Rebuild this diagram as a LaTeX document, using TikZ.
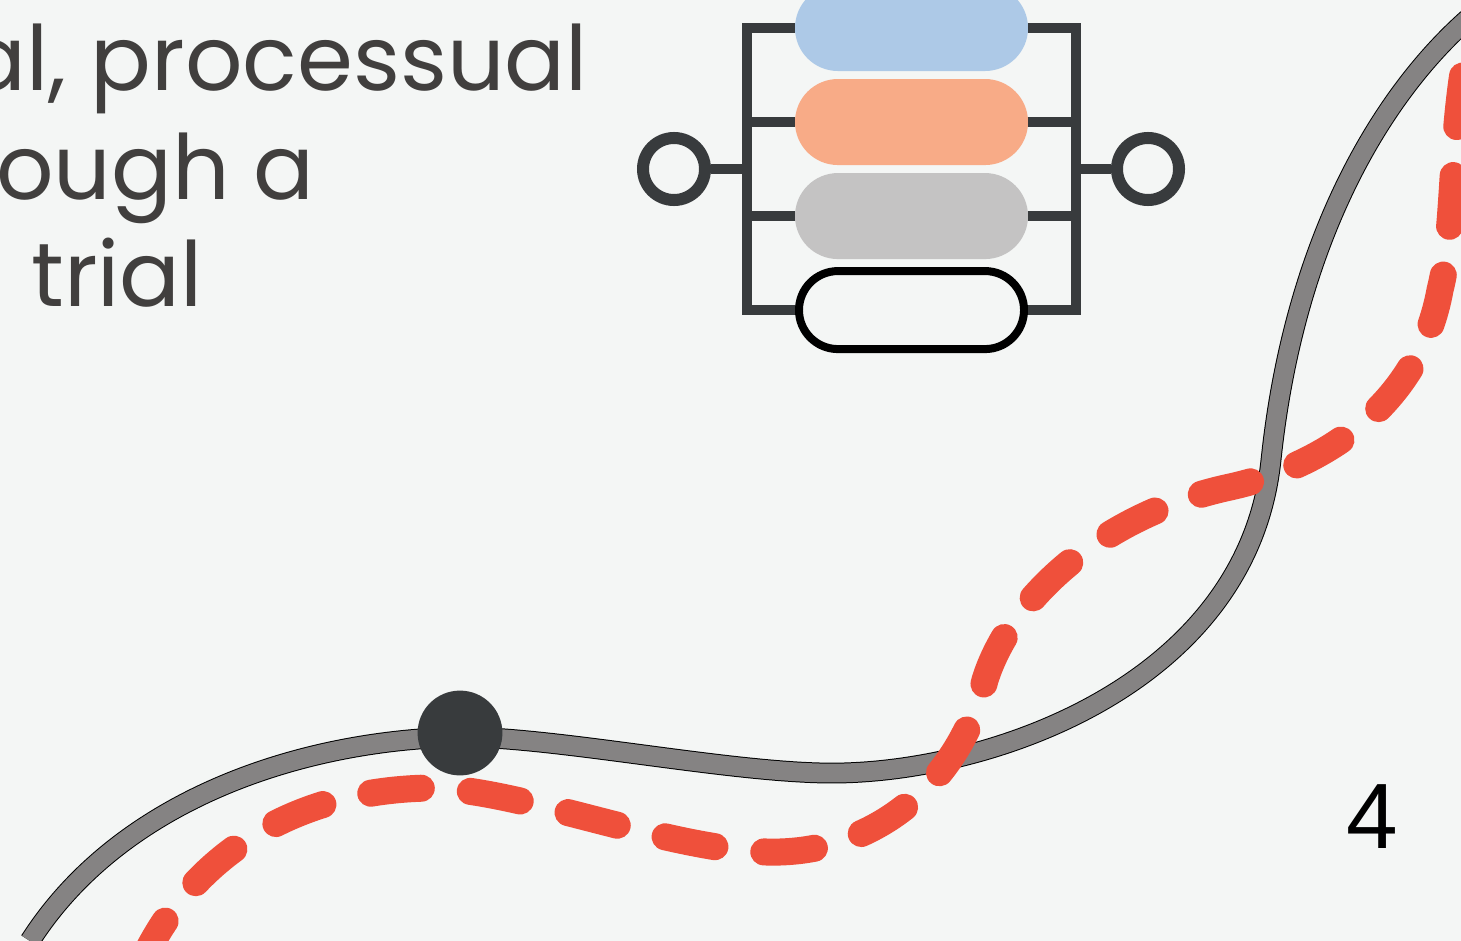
\documentclass[tikz,border=0pt]{standalone}
\usepackage{fontspec}
\setmainfont{Poppins}
\newfontfamily\numfont{Liberation Sans}
\usetikzlibrary{shapes.misc, positioning}
\definecolor{bg}{HTML}{F4F6F5}
\definecolor{ink}{HTML}{413F3E}
\definecolor{dark}{HTML}{383B3D}
\definecolor{sky}{HTML}{ADC9E7}
\definecolor{salmon}{HTML}{F8AB87}
\definecolor{stone}{HTML}{C4C3C3}
\definecolor{rail}{HTML}{858383}
\definecolor{route}{HTML}{EF503B}
\begin{document}
\begin{tikzpicture}[x=0.025cm,y=-0.025cm,node distance=2.35cm,
  pill node/.style={rounded rectangle,minimum width=5.825cm,minimum height=2.15cm,inner sep=0pt},
  ring node/.style={circle,draw=dark,line width=0.3cm,minimum size=1.55cm,inner sep=0pt},
  wire/.style={draw=dark,line width=0.25cm},
  caption/.style={inner sep=0pt,text=ink,font=\fontsize{64}{78}\selectfont}]
  \fill[bg] (0,0) rectangle (1461,941);
  \useasboundingbox (0,0) rectangle (1461,941);
  \node[caption,anchor=base east] (l1) at (588,90) {al, processual};
  \node[caption,anchor=base east] (l2) at (315,199) {ough a};
  \node[caption,anchor=base west] (l3) at (31,306) {trial};
  \node[pill node,fill=sky] (p1) at (911.5,28) {};
  \node[pill node,fill=salmon] (p2) [below of=p1] {};
  \node[pill node,fill=stone] (p3) [below of=p2] {};
  \node[pill node,draw=black,fill=bg,line width=0.2cm,minimum width=5.625cm,minimum height=1.95cm] (p4) [below of=p3] {};
  \coordinate (lt) at ([xshift=-1.2cm]p1.west);
  \coordinate (lb) at (lt |- p4.west);
  \coordinate (rt) at ([xshift=1.2cm]p1.east);
  \coordinate (rb) at (rt |- p4.east);
  \draw[wire] (p1.west) -- (lt) -- (lb) -- (p4.west);
  \draw[wire] (p1.east) -- (rt) -- (rb) -- (p4.east);
  \draw[wire] (p2.west) -- (p2.west -| lt);
  \draw[wire] (p3.west) -- (p3.west -| lt);
  \draw[wire] (p2.east) -- (p2.east -| rt);
  \draw[wire] (p3.east) -- (p3.east -| rt);
  \node[ring node] (in) at (674,169) {};
  \node[ring node] (out) at (1148,169) {};
  \draw[wire] (in) -- (in -| lt);
  \draw[wire] (out) -- (out -| rt);
  \coordinate (a) at (30,941);
  \coordinate (b) at (460,737);
  \coordinate (c) at (840,773);
  \coordinate (d) at (1271,460);
  \coordinate (e) at (1470,17);
  \draw[draw=rail,line width=0.47cm,preaction={draw=black,line width=0.52cm}]
    (a) .. controls (120,800) and (300,740) .. (b)
    .. controls (560,737) and (740,775) .. (c)
    .. controls (1000,770) and (1248,680) .. (d)
    .. controls (1293,250) and (1375,100) .. (e);
  \node[circle,fill=dark,minimum size=2.12cm,inner sep=0pt] (stop) at (460,733) {};
  \draw[route,line width=0.675cm,line cap=round,dash pattern=on 1.27cm off 1.23cm,dash phase=0.43cm]
    (148,950) .. controls (200,850) and (300,790) .. (430,788)
    .. controls (520,788) and (680,855) .. (780,852)
    .. controls (880,849) and (960,780) .. (985,680)
    .. controls (1010,600) and (1100,515) .. (1230,487)
    .. controls (1330,465) and (1420,400) .. (1440,290)
    .. controls (1455,230) and (1450,150) .. (1465,60);
  \node[font=\numfont\fontsize{66}{72}\selectfont,anchor=base west,inner sep=0pt] (page) at (1346,848) {4};
\end{tikzpicture}
\end{document}
